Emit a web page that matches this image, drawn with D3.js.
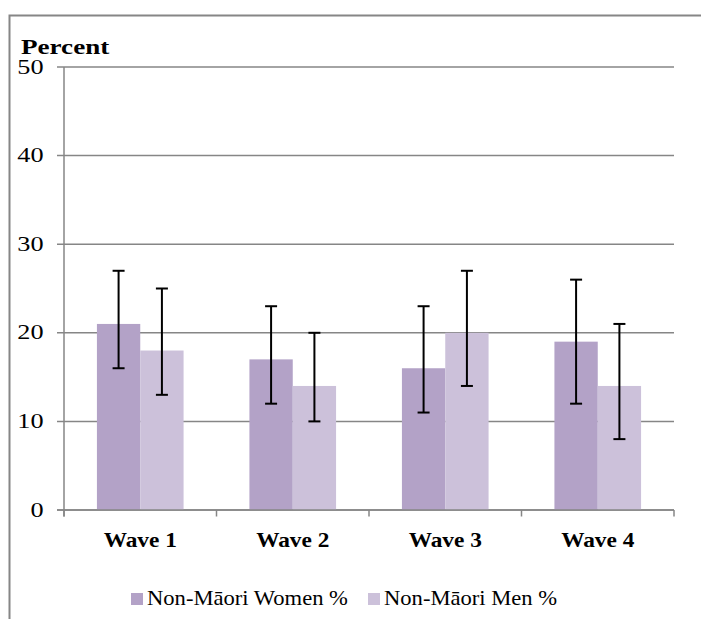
<!DOCTYPE html>
<html><head><meta charset="utf-8">
<script src="https://cdn.jsdelivr.net/npm/d3@7"></script>
<style>body{margin:0;background:#fff}svg{display:block}</style>
</head><body><svg id="c" width="701" height="619"></svg>
<script>
const categories = ["Wave 1","Wave 2","Wave 3","Wave 4"];
const seriesNames = ["Non-Māori Women %","Non-Māori Men %"];
const women = [21,17,16,19];
const womenLow = [16,12,11,12];
const womenHigh = [27,23,23,26];
const men = [18,14,20,14];
const menLow = [13,10,14,8];
const menHigh = [25,20,27,21];
const yTicks = [0,10,20,30,40,50];
const colors = ["#b3a2c7","#ccc1da"];
const FONT = "Liberation Serif";

const svg = d3.select("#c");
const grid = "#868686";
svg.append("rect").attr("x",9.5).attr("y",15.5).attr("width",720).attr("height",640)
  .attr("fill","none").attr("stroke",grid).attr("stroke-width",2);

const L=64, R=674, T=67, B=510;
const x = d3.scaleBand().domain(categories).range([L,R]);
const y = d3.scaleLinear().domain([0,50]).range([B,T]);
const inner = d3.scaleBand().domain([0,1]).range([0,x.bandwidth()]).paddingOuter(0.76).paddingInner(0);

svg.append("g").selectAll("line").data(yTicks).join("line")
  .attr("x1",57).attr("x2",R).attr("y1",d=>y(d)).attr("y2",d=>y(d))
  .attr("stroke",grid).attr("stroke-width",1.5);

const series = [
  {vals:women, lo:womenLow, hi:womenHigh},
  {vals:men, lo:menLow, hi:menHigh}
];
series.forEach((s,i)=>{
  svg.append("g").selectAll("rect").data(categories).join("rect")
    .attr("x",(c)=>x(c)+inner(i)).attr("width",inner.bandwidth())
    .attr("y",(c,j)=>y(s.vals[j])).attr("height",(c,j)=>B-y(s.vals[j]))
    .attr("fill",colors[i]);
});
svg.append("line").attr("x1",L).attr("x2",L).attr("y1",T).attr("y2",516.5).attr("stroke",grid).attr("stroke-width",1.5);
svg.append("line").attr("x1",57).attr("x2",R).attr("y1",B).attr("y2",B).attr("stroke",grid).attr("stroke-width",1.5);
const bounds = categories.map(c=>x(c)).concat([R]);
svg.append("g").selectAll("line").data(bounds).join("line")
  .attr("x1",d=>d).attr("x2",d=>d).attr("y1",B).attr("y2",516.5).attr("stroke",grid).attr("stroke-width",1.5);

series.forEach((s,i)=>{
  const g = svg.append("g").attr("stroke","#000").attr("stroke-width",2);
  categories.forEach((c,j)=>{
    const cx = x(c)+inner(i)+inner.bandwidth()/2;
    g.append("line").attr("x1",cx).attr("x2",cx).attr("y1",y(s.hi[j])).attr("y2",y(s.lo[j]));
    [s.hi[j],s.lo[j]].forEach(v=>g.append("line").attr("x1",cx-6).attr("x2",cx+6).attr("y1",y(v)).attr("y2",y(v)));
  });
});

function stretch(sel, f){
  sel.each(function(){
    const w = this.getComputedTextLength();
    d3.select(this).attr("textLength", w*f).attr("lengthAdjust","spacingAndGlyphs");
  });
}

const yl = svg.append("g").selectAll("text").data(yTicks).join("text")
  .attr("x",43.5).attr("y",d=>y(d)+6.5).attr("text-anchor","end")
  .style("font-family",FONT).attr("font-size",21).attr("fill","#000").text(d=>d);
stretch(yl,1.25);
const pt = svg.append("text").attr("x",21).attr("y",54).style("font-family",FONT).attr("font-weight","bold")
  .attr("font-size",21).text("Percent");
stretch(pt,1.29);
const xl = svg.append("g").selectAll("text").data(categories).join("text")
  .attr("x",c=>x(c)+x.bandwidth()/2).attr("y",547).attr("text-anchor","middle")
  .style("font-family",FONT).attr("font-weight","bold").attr("font-size",21).text(d=>d);
stretch(xl,1.11);
const legX = [131,368];
seriesNames.forEach((n,i)=>{
  svg.append("rect").attr("x",legX[i]).attr("y",593).attr("width",12).attr("height",12).attr("fill",colors[i]);
  const t = svg.append("text").attr("x",legX[i]+16).attr("y",605).style("font-family",FONT).attr("font-size",21).text(n);
  stretch(t,1.075);
});
</script></body></html>
